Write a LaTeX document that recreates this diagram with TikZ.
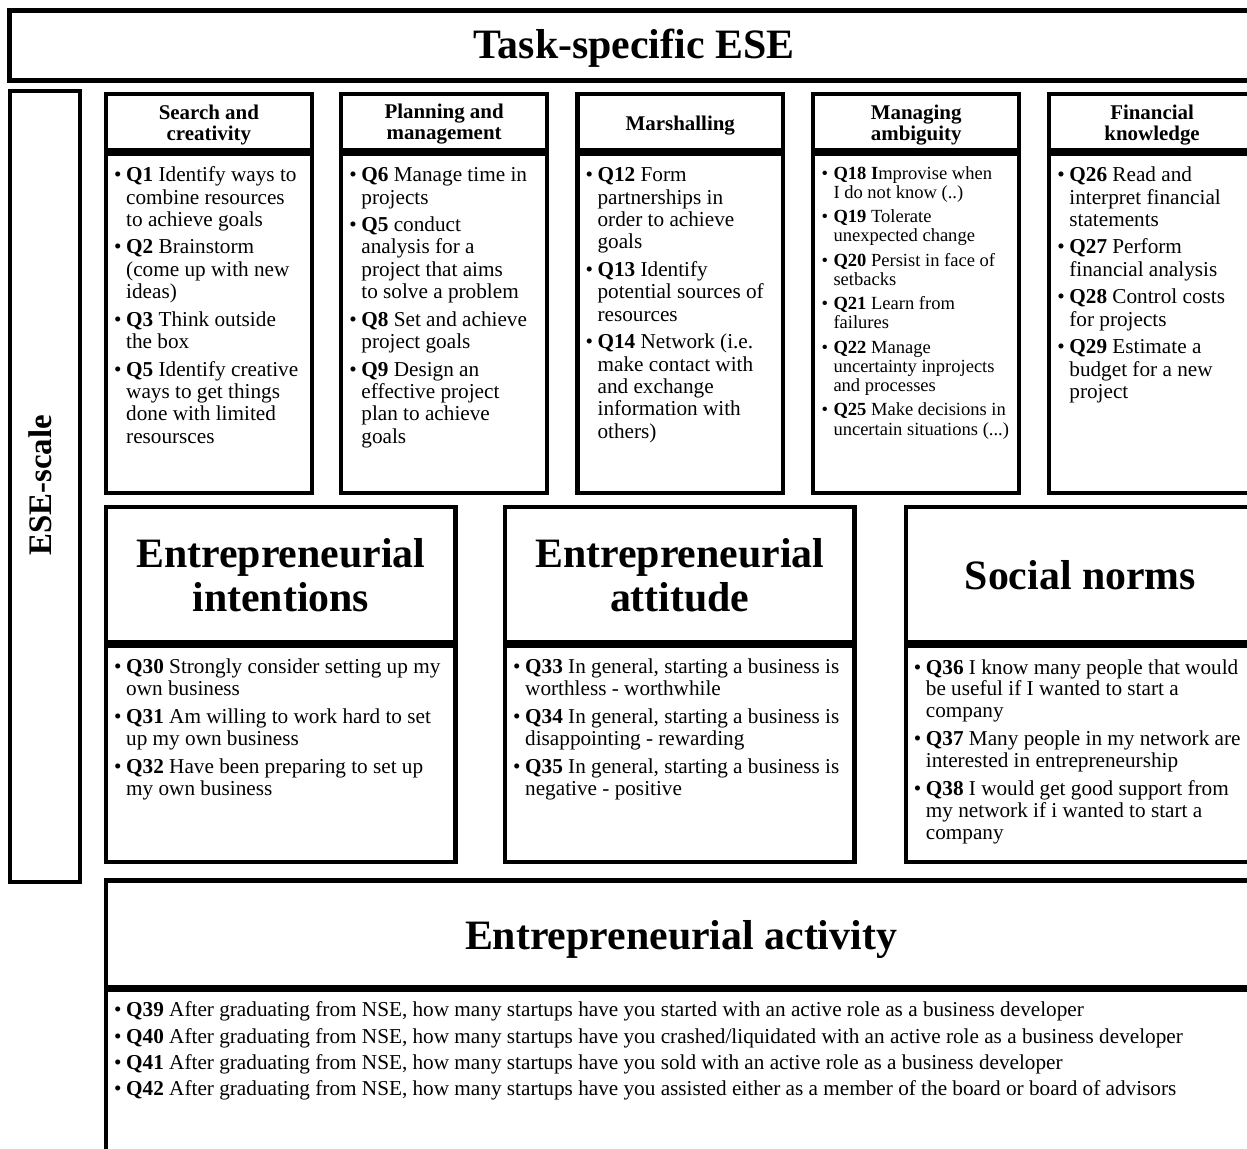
\documentclass[tikz,border=0pt]{standalone}
\usepackage{fontspec}
\setmainfont{Liberation Serif}
\usepackage{array}
% centred multi-line heading, baseline = first line
\newcommand\hdr[1]{\begin{tabular}[t]{@{}c@{}}#1\end{tabular}}
% bulleted question list, baseline = first line
\newcommand\qlist[1]{\begin{tabular}[t]{@{}l@{}l@{}}#1\end{tabular}}
\newcommand\bu{\makebox[12bp][l]{\textbullet}}
\begin{document}
\begin{tikzpicture}[x=1bp,y=-1bp,
  frame/.style={draw=black,line width=4.3bp},
  hdtext/.style={anchor=base,inner sep=0pt,font=\fontsize{21}{20.7}\selectfont\bfseries},
  bigtext/.style={anchor=base,inner sep=0pt,font=\fontsize{42}{44.4}\selectfont\bfseries},
  bodytext/.style={anchor=base west,inner sep=0pt,font=\fontsize{21.3}{22.5}\selectfont},
  smalltext/.style={anchor=base west,inner sep=0pt,font=\fontsize{18.6}{19.3}\selectfont},
  midtext/.style={anchor=base west,inner sep=0pt,font=\fontsize{21.3}{22}\selectfont},
  acttext/.style={anchor=base west,inner sep=0pt,font=\fontsize{21.3}{26.4}\selectfont},
]
\useasboundingbox (0,0) rectangle (1247,1149);
\fill[white] (0,0) rectangle (1247,1149);
\clip (0,0) rectangle (1247,1149);

% ---- title bar ----
\draw[frame,line width=4.5bp] (9.7,10.3) rectangle (1258,80.3);
\node[bigtext] (title) at (634,58.5) {Task-specific ESE};

% ---- side label ----
\draw[frame,line width=4bp] (9.7,90.8) rectangle (79.7,882);
\node[rotate=90,anchor=base,inner sep=0pt,font=\fontsize{33}{33}\selectfont\bfseries] (esescale) at (51,485.5) {ESE-scale};

% ---- top row: five ESE dimensions ----
\foreach \l in {106,341.2,577.4,813.3,1049.2}{
  \draw[frame] (\l,93.8) rectangle ({\l+205.8},150);
  \draw[frame] (\l,153.5) rectangle ({\l+205.8},493);
}

\node[hdtext] (h1) at (208.9,119.3) {\hdr{Search and\\creativity}};
\node[bodytext] (b1) at (114,181.7) {\qlist{%
\bu & \textbf{Q1} Identify ways to\\
 & combine resources\\
 & to achieve goals\\[5bp]
\bu & \textbf{Q2} Brainstorm\\
 & (come up with new\\
 & ideas)\\[5bp]
\bu & \textbf{Q3} Think outside\\
 & the box\\[5bp]
\bu & \textbf{Q5} Identify creative\\
 & ways to get things\\
 & done with limited\\
 & resoursces}};

\node[hdtext] (h2) at (444.1,118.8) {\hdr{Planning and\\management}};
\node[bodytext] (b2) at (349.2,181.7) {\qlist{%
\bu & \textbf{Q6} Manage time in\\
 & projects\\[5bp]
\bu & \textbf{Q5} conduct\\
 & analysis for a\\
 & project that aims\\
 & to solve a problem\\[5bp]
\bu & \textbf{Q8} Set and achieve\\
 & project goals\\[5bp]
\bu & \textbf{Q9} Design an\\
 & effective project\\
 & plan to achieve\\
 & goals}};

\node[hdtext] (h3) at (680.3,130) {Marshalling};
\node[bodytext] (b3) at (585.4,181.7) {\qlist{%
\bu & \textbf{Q12} Form\\
 & partnerships in\\
 & order to achieve\\
 & goals\\[5bp]
\bu & \textbf{Q13} Identify\\
 & potential sources of\\
 & resources\\[5bp]
\bu & \textbf{Q14} Network (i.e.\\
 & make contact with\\
 & and exchange\\
 & information with\\
 & others)}};

\node[hdtext] (h4) at (916.2,119.3) {\hdr{Managing\\ambiguity}};
\node[smalltext] (b4) at (821.3,179.3) {\qlist{%
\bu & \textbf{Q18 I}mprovise when\\
 & I do not know (..)\\[5bp]
\bu & \textbf{Q19} Tolerate\\
 & unexpected change\\[5bp]
\bu & \textbf{Q20} Persist in face of\\
 & setbacks\\[5bp]
\bu & \textbf{Q21} Learn from\\
 & failures\\[5bp]
\bu & \textbf{Q22} Manage\\
 & uncertainty inprojects\\
 & and processes\\[5bp]
\bu & \textbf{Q25} Make decisions in\\
 & uncertain situations (...)}};

\node[hdtext] (h5) at (1152.1,119.3) {\hdr{Financial\\knowledge}};
\node[bodytext] (b5) at (1057.2,181.7) {\qlist{%
\bu & \textbf{Q26} Read and\\
 & interpret financial\\
 & statements\\[5bp]
\bu & \textbf{Q27} Perform\\
 & financial analysis\\[5bp]
\bu & \textbf{Q28} Control costs\\
 & for projects\\[5bp]
\bu & \textbf{Q29} Estimate a\\
 & budget for a new\\
 & project}};

% ---- middle row: intentions, attitude, social norms ----
\foreach \l in {106,505,905.7}{
  \draw[frame] (\l,507.2) rectangle ({\l+349.5},642.5);
  \draw[frame] (\l,645.5) rectangle ({\l+349.5},862.2);
}

\node[bigtext] (m1) at (280.75,567.3) {\hdr{Entrepreneurial\\intentions}};
\node[midtext] (n1) at (114,673.5) {\qlist{%
\bu & \textbf{Q30} Strongly consider setting up my\\
 & own business\\[6bp]
\bu & \textbf{Q31} Am willing to work hard to set\\
 & up my own business\\[6bp]
\bu & \textbf{Q32} Have been preparing to set up\\
 & my own business}};

\node[bigtext] (m2) at (679.75,567.3) {\hdr{Entrepreneurial\\attitude}};
\node[midtext] (n2) at (513,673.5) {\qlist{%
\bu & \textbf{Q33} In general, starting a business is\\
 & worthless - worthwhile\\[6bp]
\bu & \textbf{Q34} In general, starting a business is\\
 & disappointing - rewarding\\[6bp]
\bu & \textbf{Q35} In general, starting a business is\\
 & negative - positive}};

\node[bigtext] (m3) at (1080.45,589.2) {Social norms};
\node[midtext] (n3) at (913.7,674) {\qlist{%
\bu & \textbf{Q36} I know many people that would\\
 & be useful if I wanted to start a\\
 & company\\[6bp]
\bu & \textbf{Q37} Many people in my network are\\
 & interested in entrepreneurship\\[6bp]
\bu & \textbf{Q38}  I would get good support from\\
 & my network if i wanted to start a\\
 & company}};

% ---- bottom: entrepreneurial activity ----
\draw[frame] (106,880.5) rectangle (1258,987.5);
\draw[frame] (106,989.5) rectangle (1258,1200);
\node[bigtext] (act) at (681,949.3) {Entrepreneurial activity};
\node[acttext] (actq) at (114,1016.7) {\qlist{%
\bu & \textbf{Q39} After graduating from NSE, how many startups have you started with an active role as a business developer\\
\bu & \textbf{Q40} After graduating from NSE, how many startups have you crashed/liquidated with an active role as a business developer\\
\bu & \textbf{Q41} After graduating from NSE, how many startups have you sold with an active role as a business developer\\
\bu & \textbf{Q42} After graduating from NSE, how many startups have you assisted either as a member of the board or board of advisors}};
\end{tikzpicture}
\end{document}
